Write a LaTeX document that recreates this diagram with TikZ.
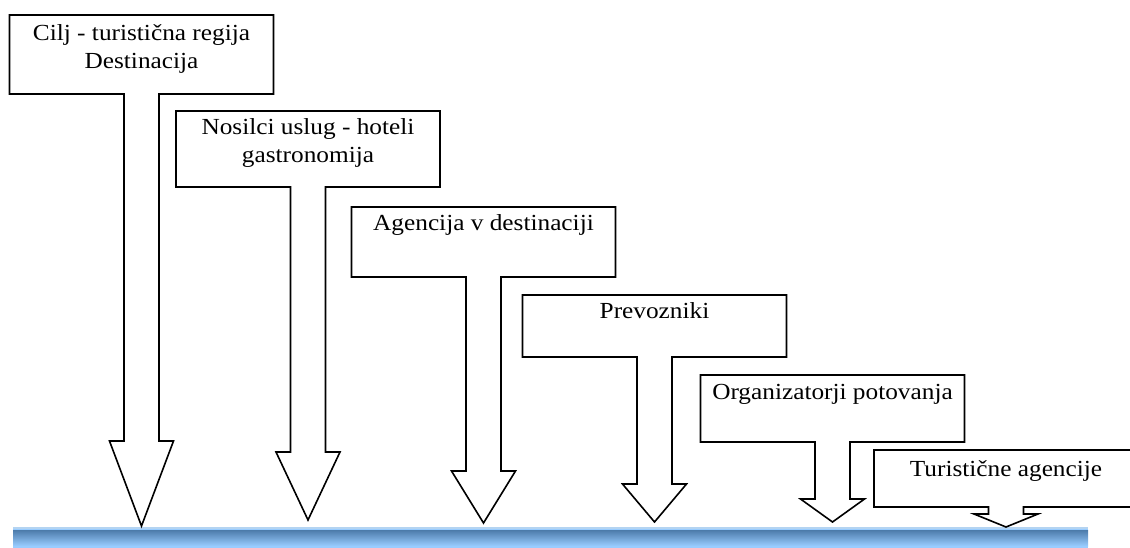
\documentclass[tikz,border=0pt]{standalone}
\usepackage{fontspec}
\setmainfont{Liberation Serif}[FakeStretch=1.1]
\usepackage{tikz}

\definecolor{barlight}{HTML}{99CCFF}
\definecolor{bardark}{HTML}{4C7BAA}
\definecolor{baredge}{HTML}{B4D4F2}

\tikzset{
  callout/.style={line width=1.6pt, line join=miter, fill=white},
  label/.style={font=\fontsize{23}{28}\selectfont, inner sep=0pt, align=center, anchor=base}
}

\begin{document}
\begin{tikzpicture}[x=1pt, y=-1pt]
\useasboundingbox (0,0) rectangle (1130,548);
\begin{scope}
\clip (0,0) rectangle (1130,548);

% bar
\fill[barlight] (13,527) rectangle (1088,548);
\shade[top color=bardark, bottom color=barlight] (13,530) rectangle (1088,546);
\draw[baredge, line width=1.5pt] (13,527.8) -- (1088,527.8);

% box + arrow: centre / box top / box bottom / head top / tip
\foreach \cx/\yt/\yb/\yh/\yp in {141.5/15/94/441/526, 308/111/187/452/520,
    483.5/207/277/471/523, 654.5/295/357/484/522, 832.5/375/442/499/522,
    1006/450/507/514/527}
  \draw[callout] (\cx-132,\yt) -- (\cx+132,\yt) -- (\cx+132,\yb) -- (\cx+17.5,\yb)
    -- (\cx+17.5,\yh) -- (\cx+32,\yh) -- (\cx,\yp) -- (\cx-32,\yh) -- (\cx-17.5,\yh)
    -- (\cx-17.5,\yb) -- (\cx-132,\yb) -- cycle;

\node[label] (cilj) at (141.5,69) {Cilj - turistična regija\\Destinacija};
\node[label] (nosilci) at (308,163) {Nosilci uslug - hoteli\\gastronomija};
\node[label] (agencija) at (483.5,231) {Agencija v destinaciji};
\node[label] (prevozniki) at (654.5,318) {Prevozniki};
\node[label] (organizatorji) at (832.5,399) {Organizatorji potovanja};
\node[label] (agencije) at (1006,476) {Turistične agencije};
\end{scope}
\end{tikzpicture}
\end{document}
